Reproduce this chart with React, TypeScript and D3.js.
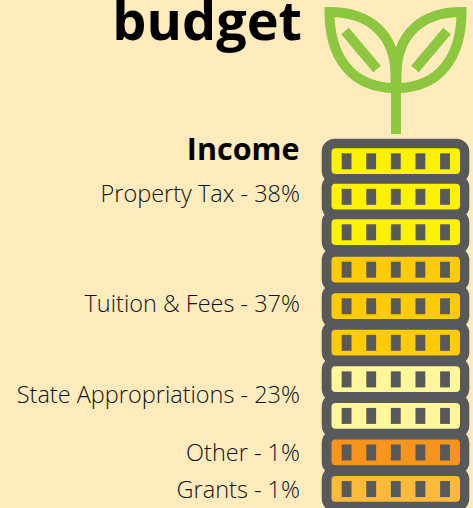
import React from "react";
import * as d3 from "d3";

const categories = ["Property Tax", "Tuition & Fees", "State Appropriations", "Other", "Grants"];
const shares = [38, 37, 23, 1, 1];
const coinCounts = [3, 3, 2, 1, 1];
const coinColors = ["#fff200", "#ffcb05", "#fff799", "#f7941d", "#fdb93a"];
const notchSlots = [0, 1, 2, 3, 4];
const titleText = "budget";
const headingText = "Income";

const W = 473;
const H = 508;
const coins = categories.flatMap((c, i) =>
  d3.range(coinCounts[i]).map(() => ({ category: c, color: coinColors[i] }))
);
const total = d3.sum(coinCounts);
const y = d3.scaleLinear().domain([0, 2, 3, total]).range([143.3, 214.3, 251.7, 507.6]);
const x = d3.scaleBand<number>().domain(notchSlots).range([334.3, 457.3]).paddingInner(0.6).paddingOuter(0.3);
const leaf = "M329.5,12 C370,12 395.5,35 395.5,75 L395.5,88 C350,88 329.5,55 329.5,12 Z";
const leafR = "M461.5,12 C421,12 396.5,35 396.5,75 L396.5,88 C441,88 461.5,55 461.5,12 Z";

export default function App() {
  let start = 0;
  const labels = categories.map((c, i) => {
    const mid = start + coinCounts[i] / 2;
    start += coinCounts[i];
    return { text: `${c} - ${shares[i]}%`, y: y(mid) + (coinCounts[i] > 1 ? 5.5 : 8.5) };
  });
  return (
    <svg
      width={W}
      height={H}
      viewBox={`0 0 ${W} ${H}`}
      style={{ position: "fixed", left: 0, top: 0, display: "block", background: "#ffebbc" }}
    >
      <g fill="none" stroke="#8dc63f" strokeWidth={10}>
        <path d={leaf} strokeLinejoin="miter" />
        <path d={leafR} strokeLinejoin="miter" />
        <path d="M396,60 V134" />
        <path d="M345,31 L377,69" />
        <path d="M447,31 L415,69" />
      </g>
      {coins.map((c, i) => (
        <rect key={i} x={321.7} y={y(i) - 4.5} width={147.6} height={45} rx={13} fill="#58595b" />
      ))}
      {coins.map((c, i) => (
        <g key={i}>
          <rect x={331.5} y={y(i) + 5} width={128.5} height={25.7} rx={4} fill={c.color} />
          {notchSlots.map((n) => (
            <rect key={n} x={x(n)} y={y(i) + 10} width={x.bandwidth()} height={16} fill="#58595b" />
          ))}
        </g>
      ))}
      <text x={302} y={40} textAnchor="end" fontFamily="'Open Sans'" fontWeight={700} fontSize={54} fill="#000">
        {titleText}
      </text>
      <text x={299.5} y={160} textAnchor="end" fontFamily="'Open Sans'" fontWeight={700} fontSize={30.5} fill="#000">
        {headingText}
      </text>
      {labels.map((l) => (
        <text key={l.text} x={300} y={l.y} textAnchor="end" fontFamily="'Open Sans'" fontWeight={300} fontSize={23.5} fill="#111">
          {l.text}
        </text>
      ))}
    </svg>
  );
}
